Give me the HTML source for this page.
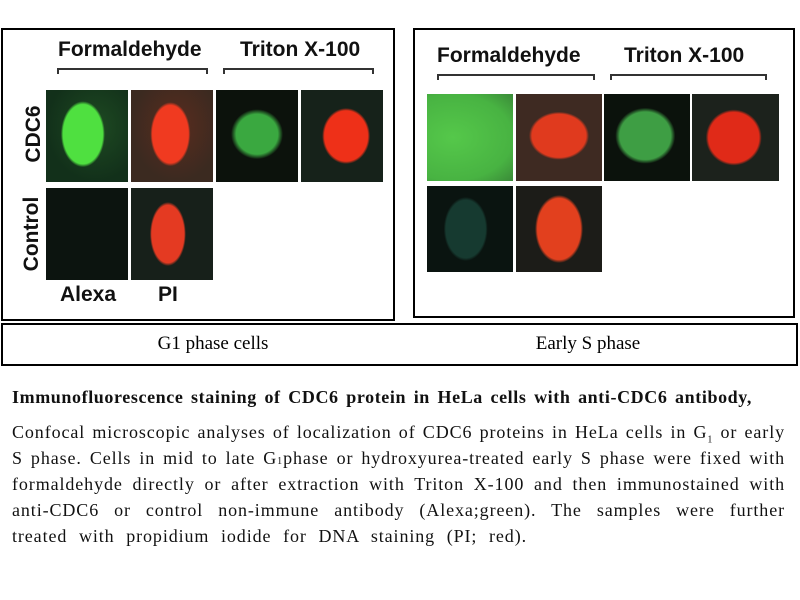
<!DOCTYPE html>
<html><head><meta charset="utf-8"><style>
body{margin:0;width:800px;height:600px;background:#fff;position:relative;overflow:hidden;font-family:"Liberation Sans",sans-serif}
.a{position:absolute}
.box{position:absolute;border:2px solid #000;box-sizing:border-box}
.t{position:absolute;overflow:hidden}
.h{position:absolute;font-weight:bold;font-size:21px;color:#111;white-space:nowrap}
.br{position:absolute;border:2px solid #333;border-bottom:none;height:6px;box-sizing:border-box}
.ln{position:absolute;left:12px;width:773px;font-family:"Liberation Serif",serif;font-size:18px;letter-spacing:0.9px;line-height:26px;color:#111;text-align:justify;text-align-last:justify;white-space:nowrap}
</style></head><body>
<div class="box" style="left:1px;top:28px;width:394px;height:293px"></div>
<div class="h" style="left:58px;top:38px">Formaldehyde</div>
<div class="h" style="left:240px;top:38px">Triton X-100</div>
<div class="br" style="left:57px;top:68px;width:151px"></div>
<div class="br" style="left:223px;top:68px;width:151px"></div>
<div class="h" style="left:2px;top:122px;transform:rotate(-90deg);transform-origin:center;width:64px;text-align:center">CDC6</div>
<div class="h" style="left:-12px;top:222px;transform:rotate(-90deg);transform-origin:center;width:88px;text-align:center">Control</div>
<div class="h" style="left:60px;top:283px">Alexa</div>
<div class="h" style="left:158px;top:283px">PI</div>
<div class="t" style="left:46px;top:90px;width:82px;height:92px;background:radial-gradient(ellipse 22px 33px at 45% 48%,#4fe040 90%,transparent 100%),radial-gradient(ellipse at 60% 40%,#1e4a22,#12301a 70%)"></div>
<div class="t" style="left:131px;top:90px;width:82px;height:92px;background:radial-gradient(ellipse 20px 32px at 48% 48%,#f03a20 90%,transparent 100%),radial-gradient(ellipse at 55% 40%,#5a2c1e,#3b2a20 70%)"></div>
<div class="t" style="left:216px;top:90px;width:82px;height:92px;background:radial-gradient(ellipse 26px 25px at 50% 48%,#3aa840 80%,transparent 100%),#0c120c"></div>
<div class="t" style="left:301px;top:90px;width:82px;height:92px;background:radial-gradient(ellipse 24px 28px at 55% 50%,#ee3018 90%,transparent 100%),#16221a"></div>
<div class="t" style="left:46px;top:188px;width:82px;height:92px;background:#0c140f"></div>
<div class="t" style="left:131px;top:188px;width:82px;height:92px;background:radial-gradient(ellipse 18px 32px at 45% 50%,#e43a22 90%,transparent 100%),#17201a"></div>
<div class="box" style="left:413px;top:28px;width:382px;height:290px"></div>
<div class="h" style="left:437px;top:44px">Formaldehyde</div>
<div class="h" style="left:624px;top:44px">Triton X-100</div>
<div class="br" style="left:437px;top:74px;width:158px"></div>
<div class="br" style="left:610px;top:74px;width:157px"></div>
<div class="t" style="left:427px;top:94px;width:86px;height:87px;background:radial-gradient(ellipse at 30% 50%,#55c84a,#48b342 70%,#3a8a38)"></div>
<div class="t" style="left:516px;top:94px;width:86px;height:87px;background:radial-gradient(ellipse 30px 24px at 50% 48%,#e03a1e 90%,transparent 100%),#3e2a22"></div>
<div class="t" style="left:604px;top:94px;width:86px;height:87px;background:radial-gradient(ellipse 30px 28px at 48% 48%,#3e9e44 85%,transparent 100%),#0b120c"></div>
<div class="t" style="left:692px;top:94px;width:87px;height:87px;background:radial-gradient(ellipse 28px 28px at 48% 50%,#e02a18 90%,transparent 100%),#1c221c"></div>
<div class="t" style="left:427px;top:186px;width:86px;height:86px;background:radial-gradient(ellipse 22px 32px at 45% 50%,#163a30 90%,transparent 100%),#0a1410"></div>
<div class="t" style="left:516px;top:186px;width:86px;height:86px;background:radial-gradient(ellipse 24px 34px at 50% 50%,#e2401e 90%,transparent 100%),#1c1c18"></div>
<div class="box" style="left:1px;top:323px;width:797px;height:43px"></div>
<div class="a" style="left:0;width:426px;top:333px;text-align:center;font-family:'Liberation Serif',serif;font-size:19px">G1 phase cells</div>
<div class="a" style="left:400px;width:376px;top:333px;text-align:center;font-family:'Liberation Serif',serif;font-size:19px">Early S phase</div>
<div class="ln" style="top:384px;width:740px;font-weight:bold;letter-spacing:0.6px">Immunofluorescence staining of CDC6 protein in HeLa cells with anti-CDC6 antibody,</div>
<div class="ln" style="top:419px">Confocal microscopic analyses of localization of CDC6 proteins in HeLa cells in G<sub style="font-size:10px;line-height:0">1</sub> or early</div>
<div class="ln" style="top:445px">S phase. Cells in mid to late G<span style="font-size:10px">1</span>phase or hydroxyurea-treated early S phase were fixed with</div>
<div class="ln" style="top:471px">formaldehyde directly or after extraction with Triton X-100 and then immunostained with</div>
<div class="ln" style="top:497px">anti-CDC6 or control non-immune antibody (Alexa;green). The samples were further</div>
<div class="ln" style="top:523px;width:515px">treated with propidium iodide for DNA staining (PI; red).</div>
</body></html>
